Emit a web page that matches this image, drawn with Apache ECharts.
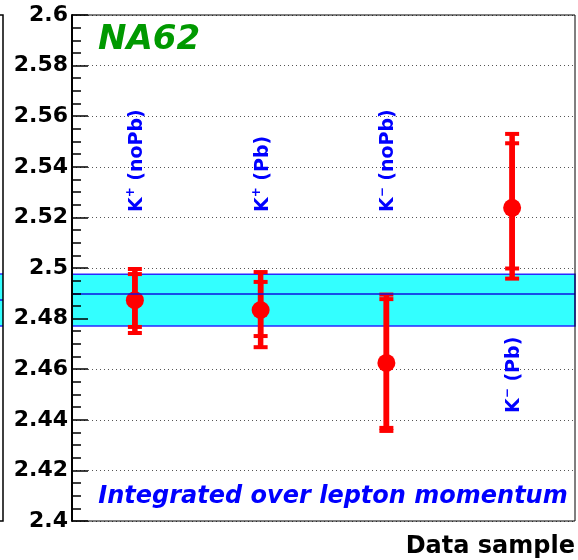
<!DOCTYPE html>
<html><head><meta charset="utf-8">
<script src="https://cdn.jsdelivr.net/npm/echarts@6/dist/echarts.min.js"></script>
<style>html,body{margin:0;padding:0;background:#fff}#c{width:578px;height:560px}</style>
</head><body><div id="c"></div>
<script>
// ---- data ----
const categories = ['K+ (noPb)', 'K+ (Pb)', 'K- (noPb)', 'K- (Pb)'];
const labelMain = ['K', 'K', 'K', 'K'];
const labelSup = ['+', '+', '\u2212', '\u2212'];
const labelTail = ['(noPb)', '(Pb)', '(noPb)', '(Pb)'];
const labelAnchor = [2.5221, 2.5221, 2.5221, 2.4427];
const values = [2.4873, 2.4834, 2.4625, 2.5238];
const statLow = [2.4767, 2.4731, 2.4368, 2.4998];
const statHigh = [2.4976, 2.4945, 2.4877, 2.5493];
const totLow = [2.4743, 2.4687, 2.4356, 2.4958];
const totHigh = [2.4996, 2.4984, 2.4895, 2.5530];
const avgValue = 2.4874, avgLow = 2.4771, avgHigh = 2.4975;
const yMin = 2.4, yMax = 2.6, yStep = 0.02;
const yTickLabels = ['2.4','2.42','2.44','2.46','2.48','2.5','2.52','2.54','2.56','2.58','2.6'];
const experiment = 'NA62';
const noteText = 'Integrated over lepton momentum';
const xTitle = 'Data sample';

const FONT = '"DejaVu Sans", "Liberation Sans", sans-serif';
const RED = '#ff0000', BLUE = '#0000ff';

function errRender(params, api) {
  const lo = api.coord([api.value(0), api.value(1)]);
  const hi = api.coord([api.value(0), api.value(2)]);
  const hw = 7;
  return { type: 'group', children: [
    { type: 'line', shape: { x1: lo[0], y1: lo[1], x2: hi[0], y2: hi[1] }, style: { stroke: RED, lineWidth: 5.5 } },
    { type: 'rect', shape: { x: lo[0] - hw, y: lo[1] - 2, width: 2 * hw, height: 4 }, style: { fill: RED } },
    { type: 'rect', shape: { x: hi[0] - hw, y: hi[1] - 2, width: 2 * hw, height: 4 }, style: { fill: RED } }
  ]};
}

function labelRender(params, api) {
  const i = params.dataIndex;
  const p = api.coord([api.value(0), api.value(1)]);
  return { type: 'text', x: p[0] + 2, y: p[1], rotation: Math.PI / 2,
    style: {
      text: '{b|' + labelMain[i] + '}{s|' + labelSup[i] + '}{b| ' + labelTail[i] + '}',
      align: 'left', verticalAlign: 'middle',
      rich: {
        b: { fontFamily: FONT, fontWeight: 'bold', fontSize: 19, fill: BLUE, lineHeight: 24, verticalAlign: 'middle' },
        s: { fontFamily: FONT, fontWeight: 'bold', fontSize: 12, fill: BLUE, lineHeight: 24, verticalAlign: 'top' }
      }
    } };
}

const chart = echarts.init(document.getElementById('c'), null, { renderer: 'canvas' });
const yBase = { type: 'value', min: yMin, max: yMax, interval: yStep, position: 'left' };
chart.setOption({
  animation: false,
  backgroundColor: '#ffffff',
  grid: { left: 72, right: 3, top: 15, bottom: 39, show: true, z: 10, borderColor: '#000', borderWidth: 1, backgroundColor: 'transparent' },
  xAxis: { type: 'category', data: categories, boundaryGap: true,
    axisLine: { show: false }, axisTick: { show: false }, axisLabel: { show: false }, splitLine: { show: false } },
  yAxis: [
    Object.assign({}, yBase, { z: 0,
      axisLine: { show: false }, axisTick: { show: false }, axisLabel: { show: false },
      splitLine: { show: true, lineStyle: { color: '#555', width: 1, type: [1, 3] } } }),
    Object.assign({}, yBase, { z: 12,
      axisLine: { show: true, lineStyle: { color: '#000', width: 2 } },
      axisTick: { show: true, inside: true, length: 16, lineStyle: { color: '#000', width: 1.5 } },
      minorTick: { show: true, splitNumber: 4, length: 9, lineStyle: { color: '#000', width: 1.5 } },
      splitLine: { show: false },
      axisLabel: { show: true, margin: 4, color: '#000', fontFamily: FONT, fontWeight: 'bold', fontSize: 22,
        padding: [6, 0, 0, 0],
        formatter: function (v) { const i = Math.round((v - yMin) / yStep); return yTickLabels[i] || ''; } } })
  ],
  series: [
    { type: 'line', yAxisIndex: 0, data: [], z: 1, silent: true,
      markArea: { silent: true, itemStyle: { color: '#33ffff', borderColor: '#2a2aff', borderWidth: 1.5 },
        data: [[{ yAxis: avgLow }, { yAxis: avgHigh }]] },
      markLine: { silent: true, symbol: ['none', 'none'], label: { show: false },
        lineStyle: { color: '#1010e0', width: 1.5, type: 'solid' }, data: [{ yAxis: avgValue }] } },
    { type: 'custom', yAxisIndex: 0, z: 3, renderItem: errRender,
      data: categories.map((c, i) => [i, totLow[i], totHigh[i]]) },
    { type: 'custom', yAxisIndex: 0, z: 3, renderItem: errRender,
      data: categories.map((c, i) => [i, statLow[i], statHigh[i]]) },
    { type: 'scatter', yAxisIndex: 0, z: 4, symbol: 'circle', symbolSize: 18,
      itemStyle: { color: RED, opacity: 1 }, data: categories.map((c, i) => [i, values[i]]) },
    { type: 'custom', yAxisIndex: 0, z: 5, renderItem: labelRender, silent: true,
      data: categories.map((c, i) => [i, labelAnchor[i]]) }
  ],
  graphic: [
    { type: 'text', left: 98, top: 23, z: 20, style: { text: experiment, fill: '#009900',
      font: 'italic bold 34px ' + FONT } },
    { type: 'text', x: 333, y: 497, z: 20, style: { text: noteText, fill: BLUE, textAlign: 'center', textVerticalAlign: 'middle',
      font: 'italic bold 24px ' + FONT } },
    { type: 'text', x: 575, y: 547, z: 20, style: { text: xTitle, fill: '#000', textAlign: 'right', textVerticalAlign: 'middle',
      font: 'bold 24px ' + FONT } },
    // fragment of neighbouring panel at the left edge
    { type: 'rect', z: 1, shape: { x: 0, y: 274, width: 3, height: 52 }, style: { fill: '#33ffff' } },
    { type: 'line', z: 2, shape: { x1: 0, y1: 274, x2: 3, y2: 274 }, style: { stroke: '#2a2aff', lineWidth: 1.5 } },
    { type: 'line', z: 2, shape: { x1: 0, y1: 300, x2: 3, y2: 300 }, style: { stroke: '#1010e0', lineWidth: 1.5 } },
    { type: 'line', z: 2, shape: { x1: 0, y1: 326, x2: 3, y2: 326 }, style: { stroke: '#2a2aff', lineWidth: 1.5 } },
    { type: 'polyline', z: 2, shape: { points: [[0, 15], [3, 15], [3, 521], [0, 521]] }, style: { stroke: '#000', lineWidth: 1.5, fill: null } }
  ]
});
</script>
</body></html>
